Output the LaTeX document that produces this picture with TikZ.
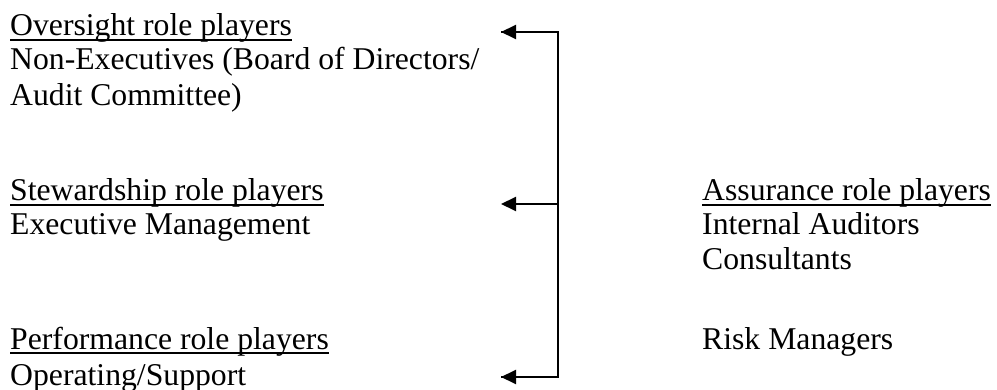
\documentclass[tikz,border=0pt]{standalone}
\usepackage{fontspec}
\setmainfont{Liberation Serif}
\usetikzlibrary{arrows.meta}

% heading with a heavy underline
\newcommand\headline[1]{\setbox0\hbox{#1}\rlap{\rule[-5pt]{\wd0}{2pt}}\box0}

\tikzset{
  label/.style={anchor=base west, inner sep=0pt, font=\fontsize{31.7pt}{34pt}\selectfont},
  feed/.style={line width=2pt, -{Triangle[length=15pt,width=14pt]}},
  spine/.style={line width=2pt}
}

\begin{document}
\begin{tikzpicture}[x=1pt,y=1pt]
  \useasboundingbox (0,0) rectangle (997,-390);

  % left column: role players
  \node[label] (overH) at (10,-36)  {\headline{Oversight role players}};
  \node[label] (over1) at (10,-70)  {Non-Executives (Board of Directors/};
  \node[label] (over2) at (10,-106) {Audit Committee)};

  \node[label] (stewH) at (10,-201) {\headline{Stewardship role players}};
  \node[label] (stew1) at (10,-235) {Executive Management};

  \node[label] (perfH) at (10,-349) {\headline{Performance role players}};
  \node[label] (perf1) at (10,-385) {Operating/Support};

  % right column: assurance
  \node[label] (assH) at (702,-201) {\headline{Assurance role players}};
  \node[label] (ass1) at (702,-235) {Internal Auditors};
  \node[label] (ass2) at (702,-270) {Consultants};
  \node[label] (ass3) at (702,-349) {Risk Managers};

  % connector: vertical spine with three arrows pointing left
  \coordinate (jTop) at (558,-32);
  \coordinate (jMid) at (558,-204);
  \coordinate (jBot) at (558,-377);
  \coordinate (tTop) at (501,-32);
  \coordinate (tMid) at (501,-204);
  \coordinate (tBot) at (501,-377);

  \draw[spine, line join=miter] (tTop) -- (jTop) -- (jBot) -- (tBot);
  \draw[feed] (jTop) -- (tTop);
  \draw[feed] (jMid) -- (tMid);
  \draw[feed] (jBot) -- (tBot);
\end{tikzpicture}
\end{document}
